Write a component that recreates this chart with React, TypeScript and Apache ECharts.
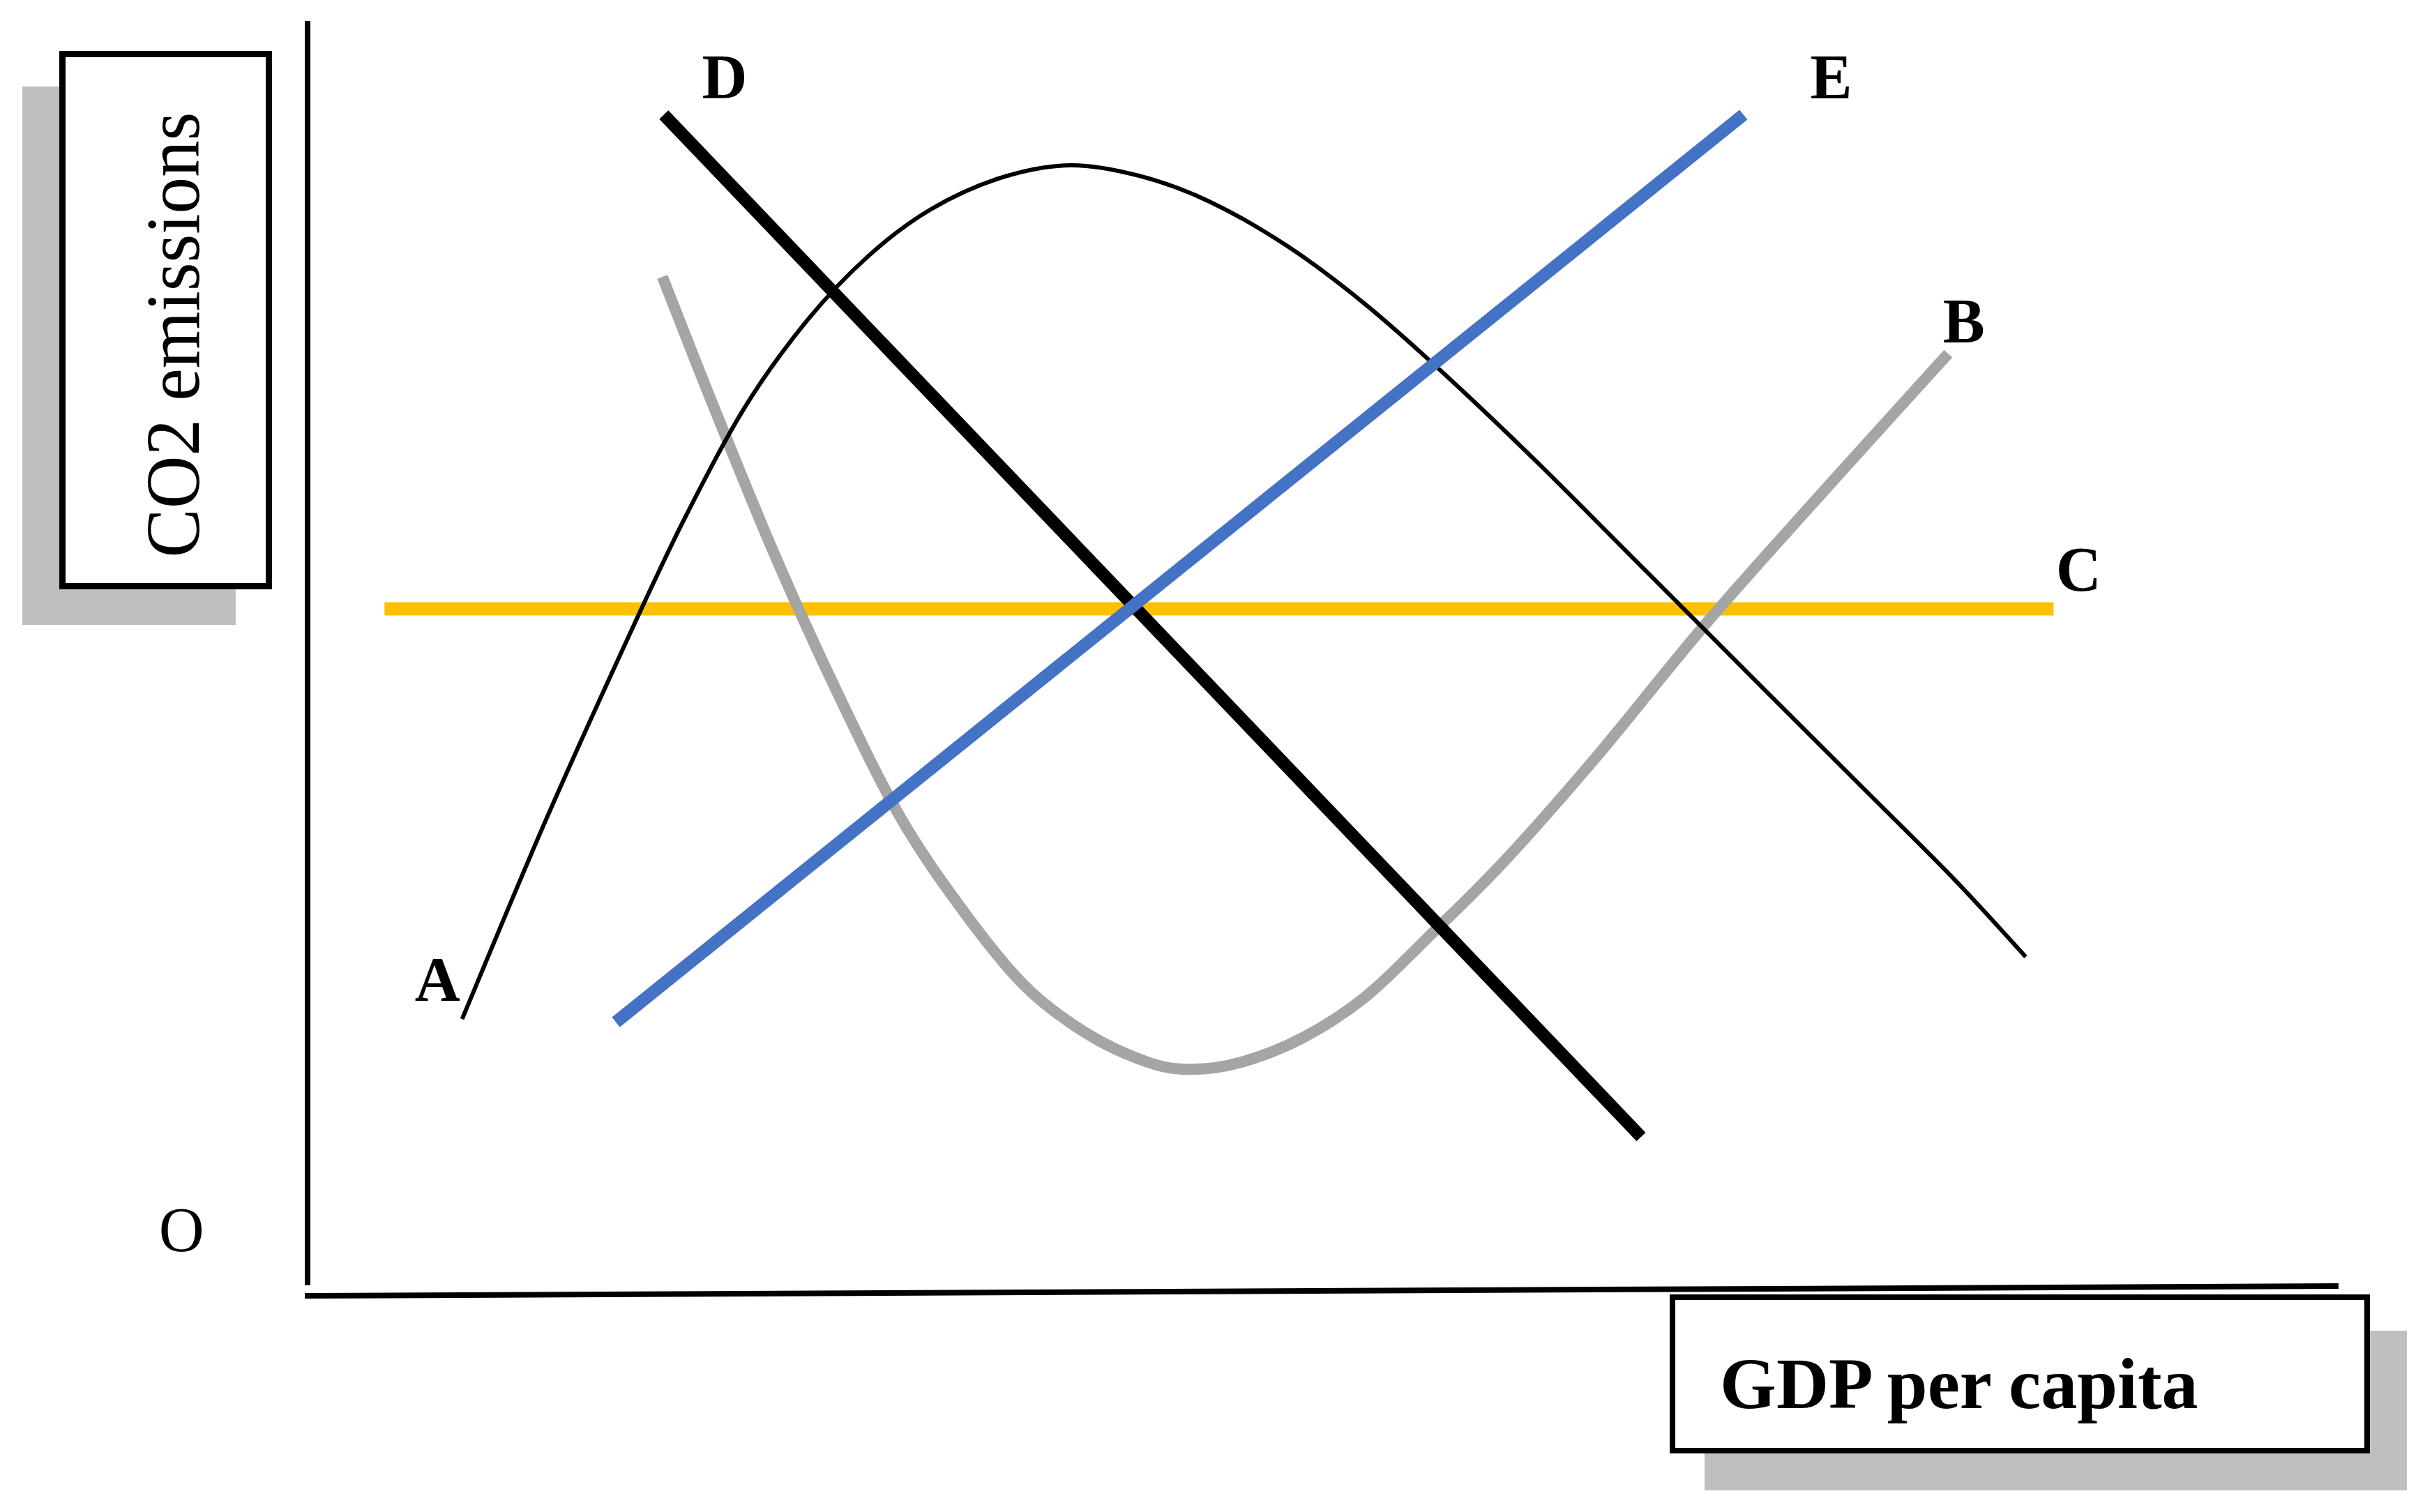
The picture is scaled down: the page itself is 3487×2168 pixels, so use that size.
import React, { useEffect, useRef } from "react";
import * as echarts from "echarts";

const FONT = '"Liberation Serif", "Times New Roman", Times, serif';

// Axis lines (data units: GDP per capita 0-100, CO2 emissions 0-100)
const xAxisLineData = [
  [-0.14, -0.44],
  [100, 0.33],
];
const yAxisLineData = [
  [0, 0.4],
  [0, 100],
];

// Curve A (inverted U)
const curveA = [
  [7.61, 21.37],
  [11.59, 36.52],
  [15.4, 50.08],
  [18.46, 60.47],
  [21.51, 69.51],
  [24.57, 76.35],
  [27.62, 81.49],
  [30.68, 85.15],
  [34.11, 87.63],
  [37.55, 88.63],
  [40.99, 87.78],
  [44.42, 85.76],
  [48.24, 82.26],
  [52.06, 77.7],
  [55.88, 72.32],
  [60.46, 65.36],
  [65.81, 56.8],
  [71.15, 48.25],
  [76.5, 39.7],
  [81.08, 32.37],
  [84.6, 26.26],
];

// Curve B (U shape)
const curveB = [
  [17.47, 79.84],
  [19.99, 69.63],
  [23.04, 57.78],
  [26.1, 47.03],
  [29.15, 37.37],
  [32.21, 30.04],
  [35.26, 24.06],
  [38.32, 20.27],
  [41.37, 17.97],
  [43.51, 17.4],
  [45.95, 17.95],
  [49.01, 19.9],
  [52.06, 23.08],
  [55.12, 27.72],
  [58.94, 33.83],
  [63.52, 42.14],
  [68.86, 52.53],
  [74.97, 63.52],
  [80.78, 73.79],
];

// Straight lines
const lineC = [
  [3.79, 53.68],
  [85.97, 53.68],
];
const lineD = [
  [17.54, 92.61],
  [65.66, 12.08],
];
const lineE = [
  [15.18, 21.12],
  [70.7, 92.61],
];

// Curve labels
const curveLabelNames = ["A", "B", "C", "D", "E"];
const curveLabelPos = [
  [6.4, 24.49],
  [81.55, 76.34],
  [87.2, 56.77],
  [20.54, 95.6],
  [75.02, 95.6],
];
const originLabelName = "O";
const originLabelPos = [-6.21, 4.75];

const xAxisTitle = "GDP per capita";
const yAxisTitle = "CO2 emissions";

function lineSeries(
  name: string,
  data: number[][],
  color: string,
  width: number,
  z: number
) {
  return {
    type: "line",
    name,
    data,
    symbol: "none",
    showSymbol: false,
    smooth: false,
    lineStyle: { color, width, cap: "butt", join: "round" },
    z,
    silent: true,
    clip: false,
    animation: false,
    emphasis: { disabled: true },
  };
}

// Smooth curve through the data points (Catmull-Rom -> cubic Bezier),
// positioned through the cartesian scales via api.coord.
function curveSeries(
  name: string,
  pts: number[][],
  color: string,
  width: number,
  z: number
) {
  return {
    type: "custom",
    name,
    coordinateSystem: "cartesian2d",
    data: [pts[0]],
    z,
    silent: true,
    clip: false,
    animation: false,
    renderItem: (_params: any, api: any) => {
      const p = pts.map((d) => api.coord(d));
      let d = `M${p[0][0]},${p[0][1]}`;
      for (let i = 0; i < p.length - 1; i++) {
        const p0 = i > 0 ? p[i - 1] : p[i];
        const p1 = p[i];
        const p2 = p[i + 1];
        const p3 = i + 2 < p.length ? p[i + 2] : p2;
        const c1x = p1[0] + (p2[0] - p0[0]) / 6;
        const c1y = p1[1] + (p2[1] - p0[1]) / 6;
        const c2x = p2[0] - (p3[0] - p1[0]) / 6;
        const c2y = p2[1] - (p3[1] - p1[1]) / 6;
        d += ` C${c1x},${c1y} ${c2x},${c2y} ${p2[0]},${p2[1]}`;
      }
      return {
        type: "path",
        shape: { pathData: d },
        style: {
          fill: "none",
          stroke: color,
          lineWidth: width,
          lineCap: "butt",
          lineJoin: "round",
        },
      };
    },
  };
}

export default function App() {
  const ref = useRef<HTMLDivElement>(null);

  useEffect(() => {
    if (!ref.current) return;
    const chart = echarts.init(ref.current, undefined, { renderer: "svg" });

    const labelData: any[] = curveLabelNames.map((n, i) => ({
      name: n,
      value: curveLabelPos[i],
    }));
    labelData.push({
      name: originLabelName,
      value: originLabelPos,
      label: { fontWeight: "normal" },
    });

    const option: any = {
      animation: false,
      backgroundColor: "#ffffff",
      grid: { left: 441, top: 30, width: 2912, height: 1820 },
      xAxis: { type: "value", min: 0, max: 100, show: false },
      yAxis: { type: "value", min: 0, max: 100, show: false },
      series: [
        lineSeries("yAxisLine", yAxisLineData, "#000000", 8, 1),
        lineSeries("xAxisLine", xAxisLineData, "#000000", 8, 1),
        lineSeries("C", lineC, "#FFC000", 19, 2),
        curveSeries("B", curveB, "#A5A5A5", 16, 3),
        curveSeries("A", curveA, "#000000", 6, 4),
        lineSeries("D", lineD, "#000000", 18, 5),
        lineSeries("E", lineE, "#4472C4", 18, 6),
        {
          type: "scatter",
          data: labelData,
          symbol: "circle",
          symbolSize: 1,
          itemStyle: { color: "#000000", opacity: 0 },
          label: {
            show: true,
            position: "inside",
            formatter: "{b}",
            color: "#000000",
            opacity: 1,
            textBorderWidth: 0,
            textBorderColor: "transparent",
            fontFamily: FONT,
            fontSize: 90,
            fontWeight: "bold",
          },
          clip: false,
          silent: true,
          z: 10,
          emphasis: { disabled: true },
        },
      ],
      graphic: [
        {
          type: "rect",
          shape: { x: 32, y: 124, width: 306, height: 772 },
          style: { fill: "#BFBFBF" },
          z: 1,
          silent: true,
        },
        {
          type: "rect",
          shape: { x: 89.5, y: 77.5, width: 296, height: 763 },
          style: { fill: "#ffffff", stroke: "#000000", lineWidth: 9 },
          z: 2,
          silent: true,
        },
        {
          type: "text",
          x: 247.5,
          y: 480,
          rotation: Math.PI / 2,
          scaleX: 0.946,
          style: {
            text: yAxisTitle,
            fontFamily: FONT,
            fontSize: 111,
            fill: "#000000",
            align: "center",
            verticalAlign: "middle",
          },
          z: 3,
          silent: true,
        },
        {
          type: "rect",
          shape: { x: 2444, y: 1908, width: 1007, height: 229 },
          style: { fill: "#BFBFBF" },
          z: 1,
          silent: true,
        },
        {
          type: "rect",
          shape: { x: 2398, y: 1860, width: 996, height: 220 },
          style: { fill: "#ffffff", stroke: "#000000", lineWidth: 8 },
          z: 2,
          silent: true,
        },
        {
          type: "text",
          x: 2466,
          y: 1983,
          style: {
            text: xAxisTitle,
            fontFamily: FONT,
            fontSize: 104,
            fontWeight: "bold",
            fill: "#000000",
            align: "left",
            verticalAlign: "middle",
          },
          z: 3,
          silent: true,
        },
      ],
    };

    chart.setOption(option);
    return () => {
      chart.dispose();
    };
  }, []);

  return (
    <div
      ref={ref}
      style={{
        position: "absolute",
        left: 0,
        top: 0,
        width: 3487,
        height: 2168,
        background: "#ffffff",
      }}
    />
  );
}
